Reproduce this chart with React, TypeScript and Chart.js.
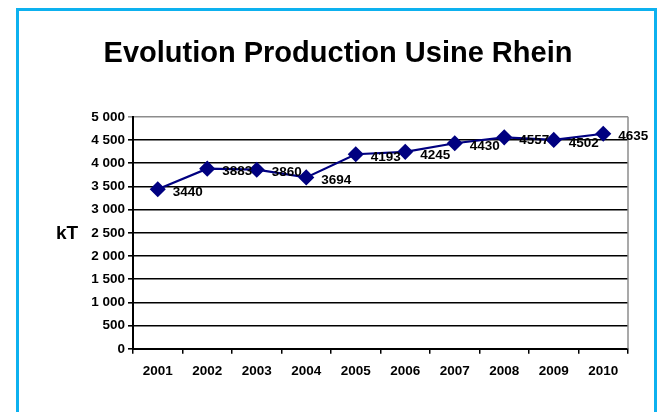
import React, { useEffect, useRef } from "react";
import { Chart, registerables } from "chart.js";

Chart.register(...registerables);

const categories = ["2001", "2002", "2003", "2004", "2005", "2006", "2007", "2008", "2009", "2010"];
const production = [3440, 3883, 3860, 3694, 4193, 4245, 4430, 4557, 4502, 4635];
const chartTitle = "Evolution Production Usine Rhein";
const unitLabel = "kT";

const FONT = "'Liberation Sans', Arial, sans-serif";

function fmt(v: number): string {
  if (v >= 1000) {
    return `${Math.floor(v / 1000)} ${String(v % 1000).padStart(3, "0")}`;
  }
  return String(v);
}

const decorPlugin = {
  id: "decor",
  afterDatasetsDraw(chart: any) {
    const { ctx, chartArea } = chart;
    ctx.save();
    // right plot border
    ctx.strokeStyle = "#8c8c8c";
    ctx.lineWidth = 1.5;
    ctx.beginPath();
    ctx.moveTo(chartArea.right, chartArea.top);
    ctx.lineTo(chartArea.right, chartArea.bottom);
    ctx.stroke();
    // data labels
    const meta = chart.getDatasetMeta(0);
    ctx.fillStyle = "#000";
    ctx.font = `bold 13.5px ${FONT}`;
    ctx.textAlign = "left";
    ctx.textBaseline = "middle";
    meta.data.forEach((p: any, i: number) => {
      ctx.fillText(String(production[i]), p.x + 15, p.y + 3);
    });
    // unit label
    ctx.font = `bold 19px ${FONT}`;
    ctx.textAlign = "center";
    ctx.fillText(unitLabel, 67, (chartArea.top + chartArea.bottom) / 2 + 1);
    ctx.restore();
  },
};

export default function App() {
  const ref = useRef<HTMLCanvasElement | null>(null);
  useEffect(() => {
    if (!ref.current) return;
    const chart = new Chart(ref.current, {
      type: "line",
      data: {
        labels: categories,
        datasets: [
          {
            data: production,
            borderColor: "#000080",
            backgroundColor: "#000080",
            borderWidth: 2.2,
            pointStyle: "rectRot",
            pointRadius: 6.5,
            pointBackgroundColor: "#000080",
            pointBorderColor: "#000080",
            tension: 0,
          },
        ],
      },
      options: {
        responsive: false,
        animation: false,
        layout: { padding: { left: 48, right: 34, top: 10, bottom: 24 } },
        plugins: {
          legend: { display: false },
          tooltip: { enabled: false },
          title: {
            display: true,
            text: chartTitle,
            color: "#000",
            font: { family: FONT, size: 29, weight: "bold" },
            padding: { top: 27, bottom: 45 },
          },
        },
        scales: {
          x: {
            offset: true,
            grid: {
              offset: true,
              drawOnChartArea: false,
              color: "#000",
              tickLength: 5,
              lineWidth: 1.5,
            },
            border: { color: "#000", width: 2 },
            ticks: {
              color: "#000",
              font: { family: FONT, size: 13.5, weight: "bold" },
              padding: 9,
              maxRotation: 0,
            },
          },
          y: {
            min: 0,
            max: 5000,
            afterFit(scale: any) {
              scale.width = 85;
            },
            grid: {
              color: (c: any) => (c.tick && c.tick.value === 5000 ? "#8c8c8c" : "#000"),
              lineWidth: 1.6,
              tickLength: 5,
            },
            border: { color: "#000", width: 2 },
            ticks: {
              stepSize: 500,
              color: "#000",
              font: { family: FONT, size: 13.5, weight: "bold" },
              padding: 3,
              callback: (v: any) => fmt(Number(v)),
            },
          },
        },
      },
      plugins: [decorPlugin],
    });
    return () => chart.destroy();
  }, []);

  return (
    <div style={{ position: "absolute", left: 0, top: 0, width: 662, height: 412, overflow: "hidden", background: "#fff" }}>
      <div
        style={{
          position: "absolute",
          left: 16,
          top: 8,
          width: 641,
          height: 500,
          border: "3px solid #0db1ef",
          boxSizing: "border-box",
        }}
      />
      <canvas ref={ref} width={662} height={412} style={{ position: "absolute", left: 0, top: 0, width: 662, height: 412 }} />
    </div>
  );
}
